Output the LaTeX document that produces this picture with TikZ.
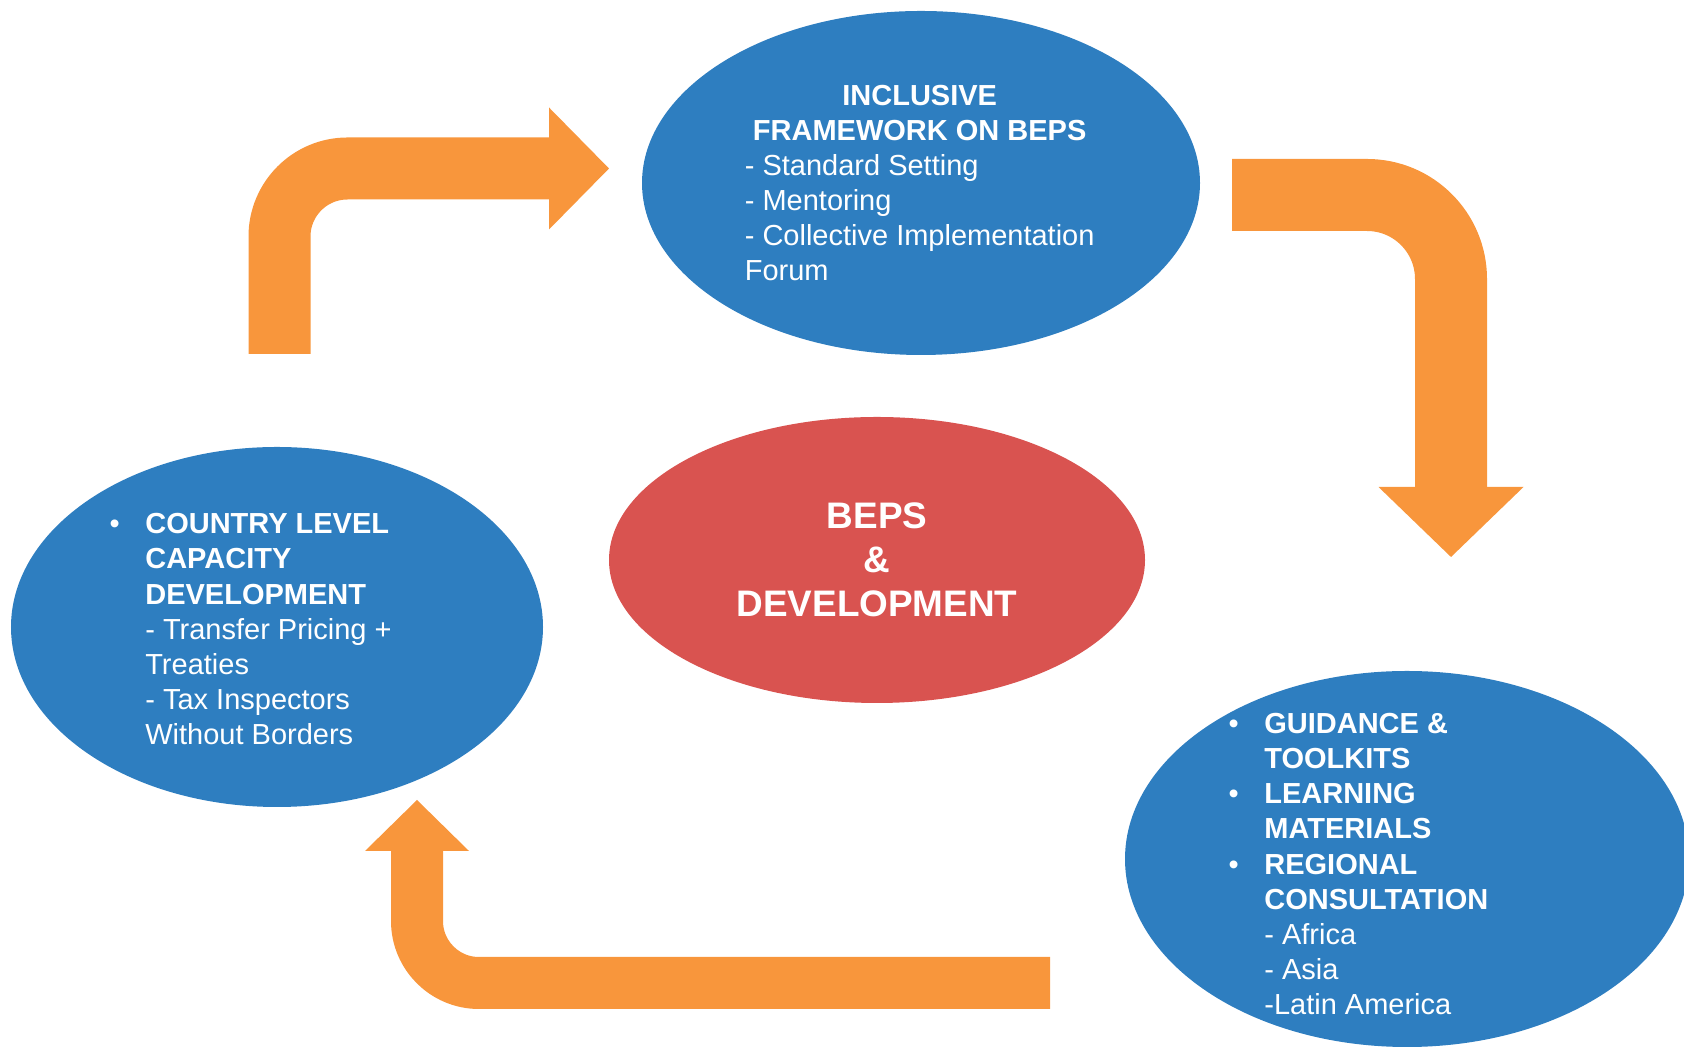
\documentclass[tikz,border=0pt]{standalone}
\usepackage{fontspec}
\setmainfont{Liberation Sans}
\usepackage{xcolor}
\usetikzlibrary{arrows.meta, positioning, shapes.geometric}

\definecolor{bepsblue}{RGB}{46,126,192}
\definecolor{bepsred}{RGB}{217,83,80}
\definecolor{floworange}{RGB}{248,150,60}

% bullet hanging to the left of a line
\newcommand{\dotitem}{\llap{\textbullet\hspace{14.5pt}}}

\begin{document}
\begin{tikzpicture}[
  blob/.style={ellipse, fill=bepsblue, inner sep=0pt},
  core/.style={ellipse, fill=bepsred, minimum width=10.72cm, minimum height=5.72cm, inner sep=0pt,
    text=white, font=\fontsize{21pt}{25pt}\selectfont\bfseries, align=center},
  note/.style={inner sep=0pt, anchor=base west, text=white, font=\fontsize{16.5pt}{20pt}\selectfont},
  flow/.style={draw=floworange, line cap=butt}
]
  \useasboundingbox (0,0) rectangle (33.68,21.02);

  % ellipses
  \node[blob, minimum width=11.16cm, minimum height=6.88cm] (framework) at (18.42,17.36) {};
  \node[blob, minimum width=10.64cm, minimum height=7.2cm] (capacity) at (5.54,8.48) {};
  \node[blob, minimum width=11.28cm, minimum height=7.52cm] (tools) at (28.14,3.84) {};
  \node[core] (beps) at (17.54,9.82) {BEPS\\\&\\DEVELOPMENT};

  % texts
  \node[note] (frameworkText) at (14.89,18.915) {%
    \begin{tabular}[t]{@{}l@{}}
      \multicolumn{1}{@{}c@{}}{\textbf{INCLUSIVE}}\\
      \multicolumn{1}{@{}c@{}}{\textbf{FRAMEWORK ON BEPS}}\\
      - Standard Setting\\
      - Mentoring\\
      - Collective Implementation\\
      Forum
    \end{tabular}};
  \node[note] (capacityText) at (2.90,10.344) {%
    \begin{tabular}[t]{@{}l@{}}
      \dotitem\textbf{COUNTRY LEVEL}\\
      \textbf{CAPACITY}\\
      \textbf{DEVELOPMENT}\\
      - Transfer Pricing +\\
      Treaties\\
      - Tax Inspectors\\
      Without Borders
    \end{tabular}};
  \node[note] (toolsText) at (25.28,6.349) {%
    \begin{tabular}[t]{@{}l@{}}
      \dotitem\textbf{GUIDANCE \&}\\
      \textbf{TOOLKITS}\\
      \dotitem\textbf{LEARNING}\\
      \textbf{MATERIALS}\\
      \dotitem\textbf{REGIONAL}\\
      \textbf{CONSULTATION}\\
      - Africa\\
      - Asia\\
      -Latin America
    \end{tabular}};

  % bent arrows
  \coordinate (a1) at (5.59,13.94);
  \coordinate (b1) at (12.18,17.65);
  \coordinate (a2) at (24.64,17.12);
  \coordinate (b2) at (29.02,9.88);
  \coordinate (a3) at (21.0,1.36);
  \coordinate (b3) at (8.34,5.02);
  \draw[flow, line width=1.24cm, rounded corners=1.36cm,
    -{Triangle[length=1.2cm, width=2.44cm, line width=0pt]}] (a1) |- (b1);
  \draw[flow, line width=1.44cm, rounded corners=1.68cm,
    -{Triangle[length=1.4cm, width=2.9cm, line width=0pt]}] (a2) -| (b2);
  \draw[flow, line width=1.04cm, rounded corners=1.24cm,
    -{Triangle[length=1.02cm, width=2.08cm, line width=0pt]}] (a3) -| (b3);
\end{tikzpicture}
\end{document}
